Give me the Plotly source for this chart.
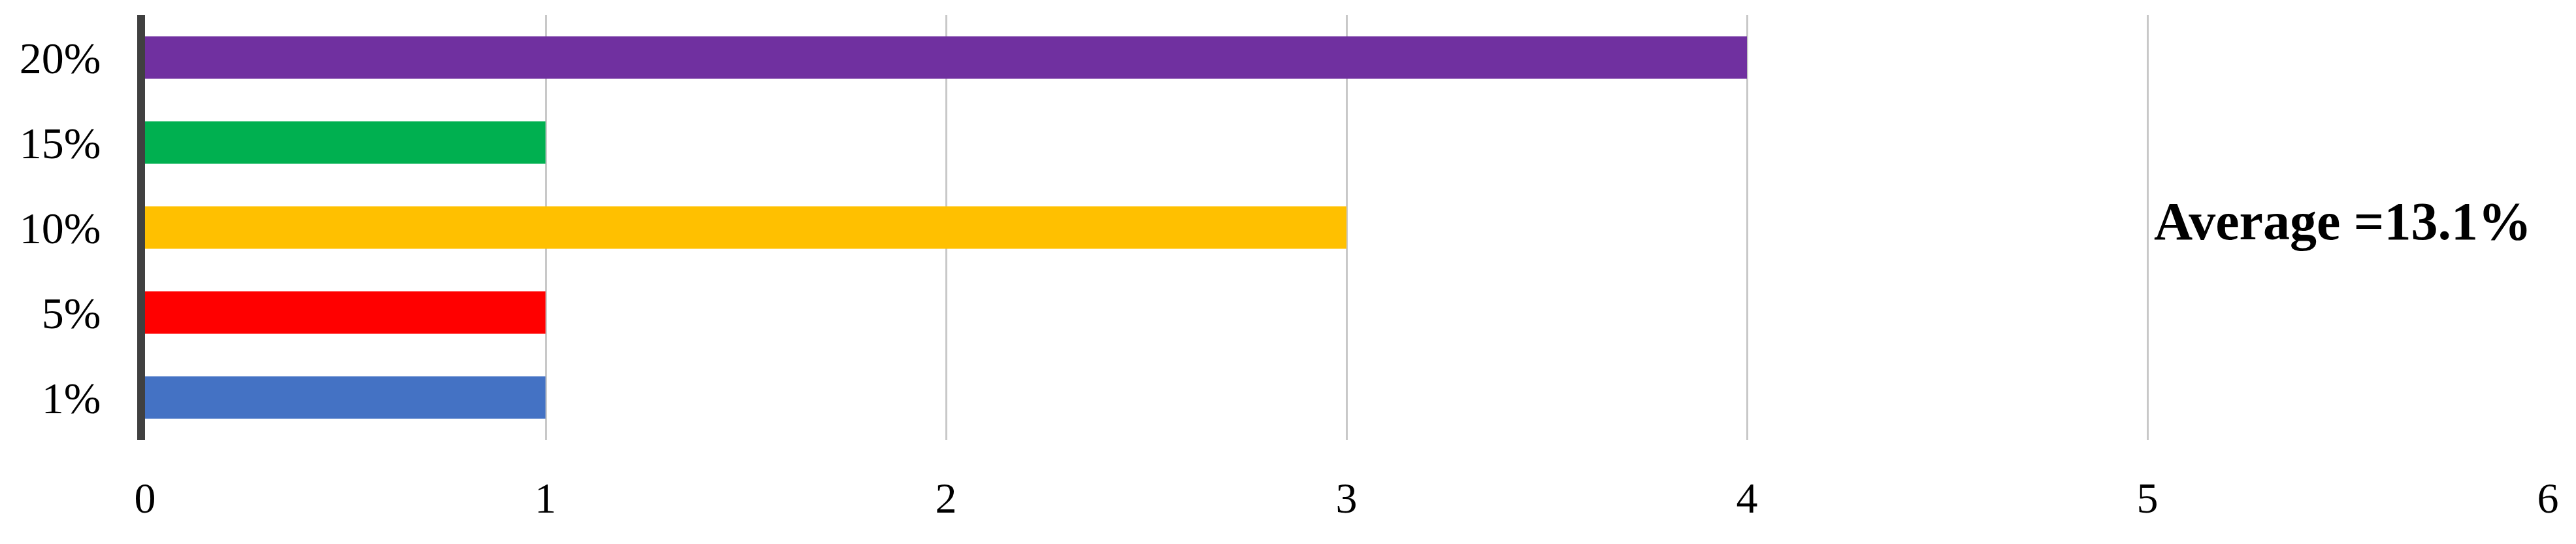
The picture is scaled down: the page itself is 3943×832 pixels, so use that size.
import plotly.graph_objects as go

categories = ["1%", "5%", "10%", "15%", "20%"]
counts = [1, 1, 3, 1, 4]
bar_colors = ["#4472C4", "#FF0000", "#FFC000", "#00B050", "#7030A0"]
x_ticks = [0, 1, 2, 3, 4, 5, 6]
average_label = "Average =13.1%"

fig = go.Figure()
fig.add_trace(go.Bar(
    y=categories,
    x=counts,
    orientation="h",
    marker=dict(color=bar_colors, line=dict(width=0)),
    width=0.5,
    showlegend=False,
))

fig.update_layout(
    width=3943,
    height=832,
    margin=dict(l=214, r=51, t=15, b=167),
    plot_bgcolor="white",
    paper_bgcolor="white",
    font=dict(family="Liberation Serif", size=66, color="black"),
    xaxis=dict(
        range=[0, 6],
        tickvals=x_ticks,
        showgrid=True,
        gridcolor="#C8C8C8",
        gridwidth=3,
        zeroline=False,
        showline=False,
        ticks="",
        ticklabelstandoff=44,
        tickfont=dict(family="Liberation Serif", size=66, color="black"),
    ),
    yaxis=dict(
        categoryorder="array",
        categoryarray=categories,
        range=[-0.5, 4.5],
        showgrid=False,
        zeroline=False,
        showline=True,
        linecolor="#404040",
        linewidth=12,
        ticks="",
        ticklabelstandoff=42,
        tickfont=dict(family="Liberation Serif", size=68, color="black"),
    ),
    annotations=[dict(
        text="<b>" + average_label + "</b>",
        xref="paper", yref="paper",
        x=0.9146, y=0.515,
        xanchor="center", yanchor="middle",
        showarrow=False,
        font=dict(family="Liberation Serif", size=82, color="black"),
    )],
)

fig.write_html("out.html")
